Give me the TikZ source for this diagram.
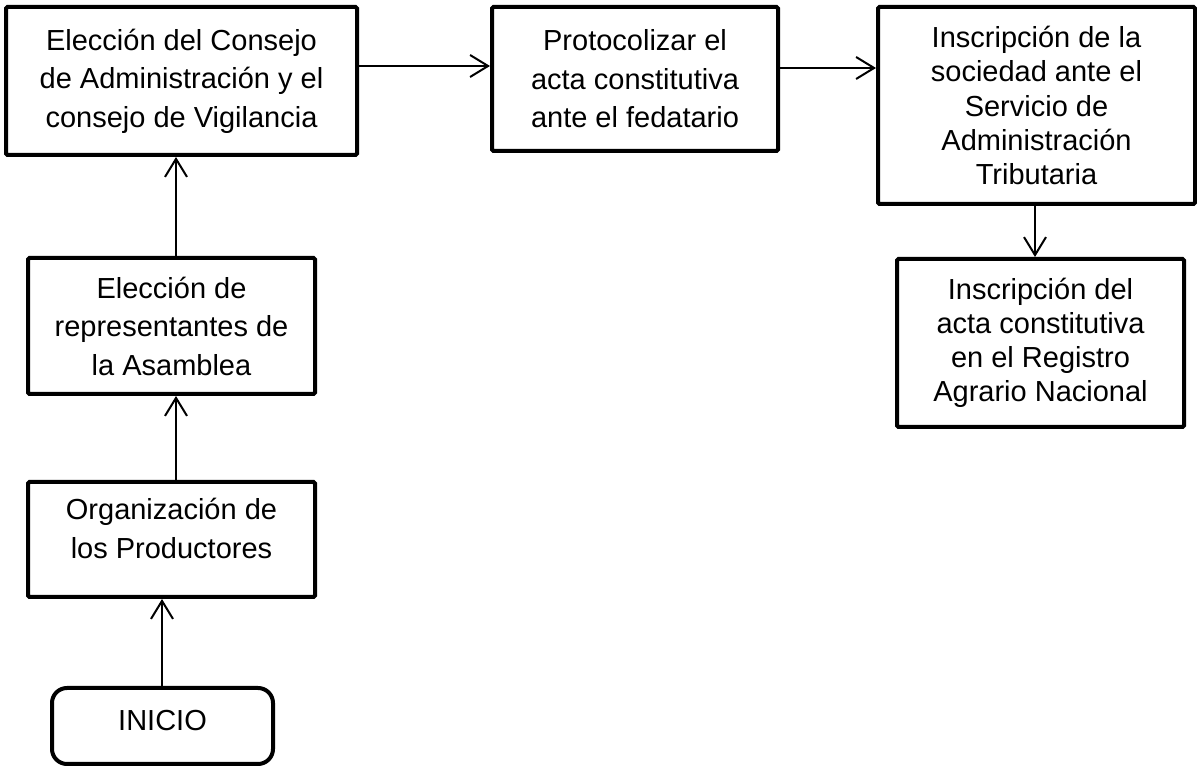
\documentclass[tikz,border=0pt]{standalone}
\usepackage{fontspec}
\setmainfont{Liberation Sans}
\usetikzlibrary{arrows.meta}
\begin{document}
\begin{tikzpicture}[x=1pt,y=1pt,
  box/.style={draw=black, line width=4pt, rounded corners=1.5pt, align=center, inner sep=0pt,
    font=\fontsize{29}{38.5}\selectfont},
  tight/.style={font=\fontsize{29}{34.2}\selectfont},
  startbox/.style={draw=black, line width=4pt, rounded corners=15pt, align=center, inner sep=0pt,
    font=\fontsize{29}{38.5}\selectfont},
  conn/.style={line width=2pt, -{Straight Barb[length=18pt 0 0, width=22pt 0 0, line width=2pt]}}
]
\useasboundingbox (0,0) rectangle (1197,768);
\fill[white] (0,0) rectangle (1197,768);

\node[box, minimum width=351pt, minimum height=148pt] (b1) at (181.5,687)
  {Elección del Consejo\\de Administración y el\\consejo de Vigilancia};
\node[box, minimum width=286pt, minimum height=144pt] (b2) at (635,689)
  {Protocolizar el\\acta constitutiva\\ante el fedatario};
\node[box, tight, minimum width=317pt, minimum height=197pt] (b3) at (1036.5,662.5)
  {Inscripción de la\\sociedad ante el\\Servicio de\\Administración\\Tributaria};
\node[box, tight, minimum width=287pt, minimum height=168pt] (b4) at (1040.5,425)
  {Inscripción del\\acta constitutiva\\en el Registro\\Agrario Nacional};
\node[box, minimum width=287pt, minimum height=136pt] (b5) at (171.5,442)
  {Elección de\\representantes de\\la Asamblea};
\node[box, minimum width=287pt, minimum height=115pt, text depth=22pt] (b6) at (171.5,228.5)
  {Organización de\\los Productores};
\node[startbox, minimum width=221pt, minimum height=76pt, text depth=11pt] (s) at (162.5,42)
  {INICIO};

\draw[conn] (b1.east |- 0,702) -- (b2.west |- 0,702);
\draw[conn] (b2.east |- 0,700) -- (b3.west |- 0,700);
\draw[conn] (b3.south -| 1035,0) -- (b4.north -| 1035,0);
\draw[conn] (b5.north -| 176,0) -- (b1.south -| 176,0);
\draw[conn] (b6.north -| 176,0) -- (b5.south -| 176,0);
\draw[conn] (s.north -| 162,0) -- (b6.south -| 162,0);
\end{tikzpicture}
\end{document}
